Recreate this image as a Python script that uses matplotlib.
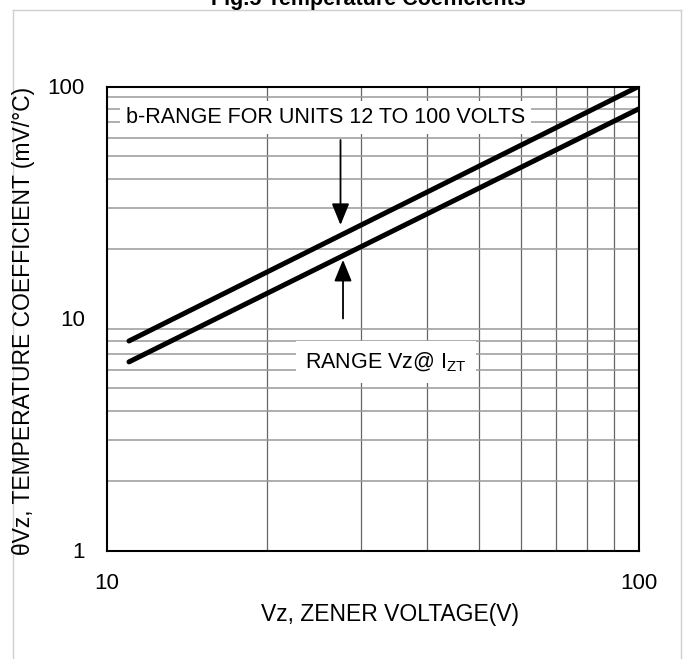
import matplotlib.pyplot as plt
from matplotlib.lines import Line2D
from matplotlib.ticker import FixedLocator, NullFormatter

plt.rcParams['font.family'] = ['Liberation Sans', 'DejaVu Sans']
plt.rcParams['mathtext.fontset'] = 'custom'
plt.rcParams['mathtext.rm'] = 'Liberation Sans'

# data
vz = [11, 100]
tc_upper = [8, 100]
tc_lower = [6.5, 80]

x_major = [10, 100]
x_minor = [20, 30, 40, 50, 60, 70, 80, 90]
y_major = [1, 10, 100]
y_minor = [2, 3, 4, 5, 6, 7, 8, 9, 20, 30, 40, 50, 60, 70, 80, 90]

# arrow annotations: (x, start y, tip y)
arrow_down = (27.5, 58.8, 25.3)
arrow_up = (27.8, 10.0, 17.9)

fig = plt.figure(figsize=(6.84, 6.59), dpi=100)

# light frame round the chart
frame_col = '#cfcfcf'
fig.add_artist(Line2D([13 / 684, 13 / 684], [0, 1 - 10 / 659], color=frame_col, lw=1))
fig.add_artist(Line2D([13 / 684, 681 / 684], [1 - 10 / 659, 1 - 10 / 659], color=frame_col, lw=1))
fig.add_artist(Line2D([681 / 684, 681 / 684], [0, 1 - 10 / 659], color=frame_col, lw=1))

fig.text(368 / 684, 1 - 5 / 659, 'Fig.5 Temperature Coefficients',
         ha='center', va='baseline', fontsize=15.5, fontweight='bold')

ax = fig.add_axes([107 / 684, 1 - 550.5 / 659, 531.5 / 684, 464 / 659])
ax.set_xscale('log')
ax.set_yscale('log')
ax.set_xlim(10, 100)
ax.set_ylim(1, 100)

ax.xaxis.set_major_locator(FixedLocator(x_major))
ax.xaxis.set_minor_locator(FixedLocator(x_minor))
ax.yaxis.set_major_locator(FixedLocator(y_major))
ax.yaxis.set_minor_locator(FixedLocator(y_minor))
ax.xaxis.set_minor_formatter(NullFormatter())
ax.yaxis.set_minor_formatter(NullFormatter())
ax.set_xticklabels([str(v) for v in x_major])
ax.set_yticklabels([str(v) for v in y_major])

ax.tick_params(which='both', length=0, labelsize=16)
ax.tick_params(axis='x', pad=16)
ax.tick_params(axis='y', pad=16)

ax.grid(True, which='minor', axis='x', color='#666666', lw=0.9)
ax.grid(True, which='minor', axis='y', color='#999999', lw=1.1)
for s in ax.spines.values():
    s.set_linewidth(1.5)
    s.set_zorder(5)

ax.plot(vz, tc_upper, color='black', lw=3.6, solid_capstyle='round', zorder=4)
ax.plot(vz, tc_lower, color='black', lw=3.6, solid_capstyle='round', zorder=4)

arrow_props = dict(arrowstyle='-|>,head_length=1.1,head_width=0.45',
                   mutation_scale=12, color='black', lw=1.3, shrinkA=0, shrinkB=0)
ax.annotate('', xy=(arrow_down[0], arrow_down[2]), xytext=(arrow_down[0], arrow_down[1]),
            arrowprops=arrow_props, zorder=4)
ax.annotate('', xy=(arrow_up[0], arrow_up[2]), xytext=(arrow_up[0], arrow_up[1]),
            arrowprops=arrow_props, zorder=4)

ax.text(10.85, 73.5, 'b-RANGE FOR UNITS 12 TO 100 VOLTS', fontsize=15.5,
        ha='left', va='center', zorder=3,
        bbox=dict(boxstyle='square,pad=0.28', fc='white', ec='none'))
ax.text(23.6, 6.49, 'RANGE Vz@ I$_{\\mathrm{ZT}}$', fontsize=15.5,
        ha='left', va='center', zorder=3,
        bbox=dict(boxstyle='square,pad=0.42', fc='white', ec='none'))

# axis titles placed where the reference puts them
fig.text(390 / 684, 1 - 614 / 659, 'Vz, ZENER VOLTAGE(V)', fontsize=16.5,
         ha='center', va='center')
fig.text(24 / 684, 1 - 321 / 659, 'θVz, TEMPERATURE COEFFICIENT (mV/°C)', fontsize=16.5,
         ha='center', va='center', rotation=90)

fig.savefig('out.png', dpi=100)
